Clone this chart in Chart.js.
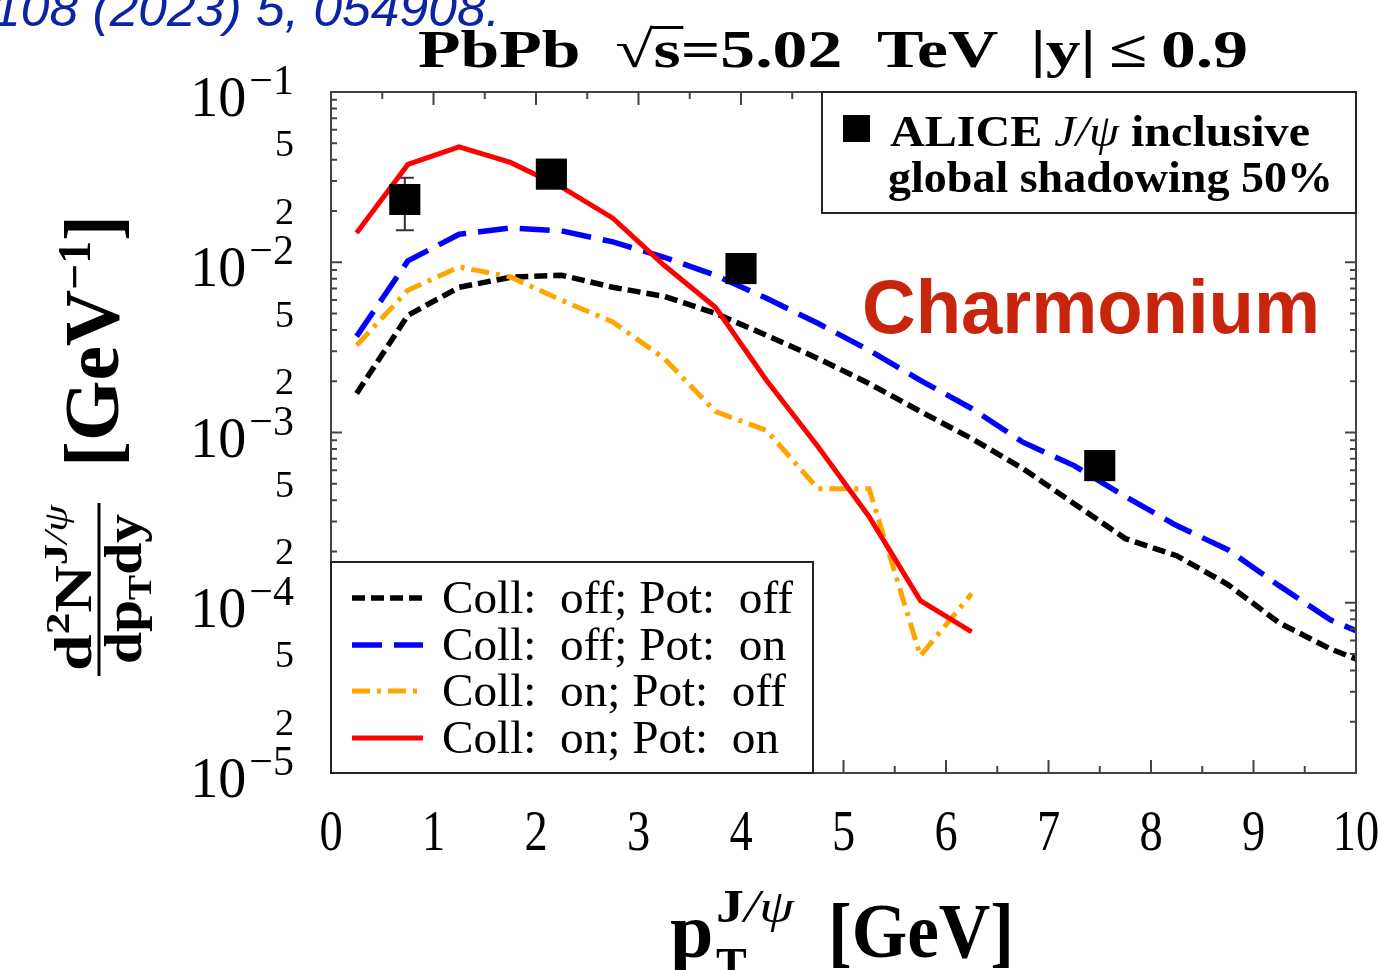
<!DOCTYPE html>
<html>
<head>
<meta charset="utf-8">
<title>J/psi pT spectrum, PbPb 5.02 TeV</title>
<script src="https://cdn.jsdelivr.net/npm/chart.js@4.4.0/dist/chart.umd.min.js"></script>
<style>
  html, body { margin: 0; padding: 0; background: #fff; overflow: hidden; }
  canvas { display: block; }
</style>
</head>
<body>
<canvas id="spectrum" width="1379" height="970"></canvas>
<script>
// ─── Data ─────────────────────────────────────────────────────────────────────

// transport model pT grid [GeV]
const ptGrid = [0.25, 0.75, 1.25, 1.75, 2.25, 2.75, 3.25, 3.75, 4.25, 4.75, 5.25,
                5.75, 6.25, 6.75, 7.25, 7.75, 8.25, 8.75, 9.25, 9.75, 10.0];

// d2N/dpTdy [GeV^-1]
const collOffPotOff = [0.001696, 0.004879, 0.007125, 0.008164, 0.008387, 0.007125, 0.006310,
                       0.005012, 0.003721, 0.002724, 0.001941, 0.001329, 0.000922, 0.000614,
                       0.000382, 0.000238, 0.000189, 0.000128, 0.0000763, 0.0000536, 0.0000468];
const collOffPotOn  = [0.003671, 0.01018, 0.01461, 0.01591, 0.01528, 0.01317, 0.01070,
                       0.008387, 0.006142, 0.004378, 0.003038, 0.002022, 0.001384, 0.000877,
                       0.000639, 0.000420, 0.000284, 0.000205, 0.000126, 0.0000794, 0.0000685];
const collOnPotOff  = [0.003249, 0.006845, 0.009384, 0.008195, 0.005977, 0.004455, 0.002724,
                       0.001329, 0.001027, 0.000468, 0.000468, 0.0000488, 0.000113];
const collOnPotOn   = [0.01487, 0.03756, 0.04767, 0.03860, 0.02762, 0.01815, 0.009603,
                       0.005436, 0.002022, 0.000827, 0.000320, 0.000103, 0.0000675];

// ALICE inclusive J/psi
const alicePt    = [0.72, 2.15, 4.0, 7.5];
const aliceYield = [0.02338, 0.03293, 0.009182, 0.000639];
const aliceErrLo = [0.01542, null, null, null];
const aliceErrHi = [0.03133, null, null, null];

const seriesLabels = ['Coll:  off; Pot:  off', 'Coll:  off; Pot:  on',
                      'Coll:  on; Pot:  off', 'Coll:  on; Pot:  on'];
const xTickValues = [0, 1, 2, 3, 4, 5, 6, 7, 8, 9, 10];
const yDecadeExps = [-1, -2, -3, -4, -5];
const yMinorLabels = [5, 2];

// ─── Fonts / helpers ──────────────────────────────────────────────────────────

const SERIF = '"Liberation Serif", "Times New Roman", serif';
const SANS = '"Liberation Sans", Arial, sans-serif';
const B = size => `bold ${size}px ${SERIF}`;
const R = size => `${size}px ${SERIF}`;
const I = size => `italic ${size}px ${SERIF}`;

// draws a row of text pieces (different fonts / raised or lowered), optionally
// stretched horizontally to a given width
function drawRuns(ctx, runs, x, y, opt = {}) {
  let natural = 0;
  runs.forEach(r => { ctx.font = r.font; natural += ctx.measureText(r.text).width + (r.gap || 0); });
  const sx = opt.width ? opt.width / natural : (opt.sx || 1);
  let x0 = x;
  if (opt.align === 'right') x0 = x - natural * sx;
  else if (opt.align === 'center') x0 = x - natural * sx / 2;
  ctx.save();
  ctx.translate(x0, y);
  ctx.scale(sx, 1);
  ctx.textAlign = 'left';
  ctx.textBaseline = 'alphabetic';
  let cx = 0;
  runs.forEach(r => {
    ctx.font = r.font;
    ctx.fillStyle = r.color || opt.color || '#000';
    ctx.fillText(r.text, cx, r.dy || 0);
    const w = ctx.measureText(r.text).width;
    if (r.overline != null) ctx.fillRect(cx - 2, r.overline, w + 4, 3);
    cx += w + (r.gap || 0);
  });
  ctx.restore();
  return natural * sx;
}

// ─── Datasets ─────────────────────────────────────────────────────────────────

const toPoints = (xs, ys) => ys.map((v, i) => ({ x: xs[i], y: v }));

const lineStyles = [
  { color: '#000000', width: 5.5, dash: [13, 6] },
  { color: '#0000ff', width: 5.5, dash: [30, 12] },
  { color: '#ffa500', width: 5, dash: [18, 7, 4, 7] },
  { color: '#ff0000', width: 5, dash: [] },
];
const seriesValues = [collOffPotOff, collOffPotOn, collOnPotOff, collOnPotOn];

const aliceSet = {
  label: 'ALICE J/psi inclusive',
  data: toPoints(alicePt, aliceYield),
  showLine: false,
  pointStyle: 'rect',
  pointRadius: 22,
  pointBorderWidth: 0,
  pointBackgroundColor: '#000',
};
const modelSets = seriesValues.map((vals, i) => ({
  label: seriesLabels[i],
  data: toPoints(ptGrid, vals),
  borderColor: lineStyles[i].color,
  borderWidth: lineStyles[i].width,
  borderDash: lineStyles[i].dash,
  pointRadius: 0,
  tension: 0,
  fill: false,
}));
// first dataset is painted last: squares on top, then red, orange, blue, black
const datasets = [aliceSet, ...modelSets.slice().reverse()];

// ─── Plugins ──────────────────────────────────────────────────────────────────

const errorBars = {
  id: 'errorBars',
  beforeDatasetsDraw(chart) {
    const { ctx, scales: { x, y } } = chart;
    ctx.save();
    ctx.strokeStyle = '#333';
    ctx.lineWidth = 2;
    alicePt.forEach((pt, i) => {
      if (aliceErrLo[i] == null) return;
      const px = x.getPixelForValue(pt);
      const lo = y.getPixelForValue(aliceErrLo[i]);
      const hi = y.getPixelForValue(aliceErrHi[i]);
      ctx.beginPath();
      ctx.moveTo(px, lo); ctx.lineTo(px, hi);
      ctx.moveTo(px - 9, lo); ctx.lineTo(px + 9, lo);
      ctx.moveTo(px - 9, hi); ctx.lineTo(px + 9, hi);
      ctx.stroke();
    });
    ctx.restore();
  },
};

const decorations = {
  id: 'decorations',
  afterDraw(chart) {
    const { ctx, chartArea: a, scales: { x, y } } = chart;
    ctx.save();

    // frame + inward ticks on all four sides
    ctx.strokeStyle = '#444';
    ctx.lineWidth = 2;
    ctx.strokeRect(a.left, a.top, a.right - a.left, a.bottom - a.top);
    ctx.beginPath();
    for (let v = 0.5; v < 10; v += 0.5) {
      const px = x.getPixelForValue(v);
      const len = Number.isInteger(v) ? 13 : 7;
      ctx.moveTo(px, a.bottom); ctx.lineTo(px, a.bottom - len);
      ctx.moveTo(px, a.top); ctx.lineTo(px, a.top + len);
    }
    for (let e = -5; e < -1; e++) {
      for (let m = 1; m < 10; m++) {
        const py = y.getPixelForValue(m * Math.pow(10, e));
        const len = m === 1 ? 11 : 6;
        ctx.moveTo(a.left, py); ctx.lineTo(a.left + len, py);
        ctx.moveTo(a.right, py); ctx.lineTo(a.right - len, py);
      }
    }
    ctx.stroke();

    // x tick labels
    xTickValues.forEach(v => {
      drawRuns(ctx, [{ text: String(v), font: R(58) }], x.getPixelForValue(v), 850, { align: 'center', sx: 0.8 });
    });

    // y tick labels: decades with exponents, 5 and 2 inside each decade
    yDecadeExps.forEach(e => {
      const py = y.getPixelForValue(Math.pow(10, e));
      drawRuns(ctx, [
        { text: '10', font: R(56), gap: 3 },
        { text: '\u2212' + (-e), font: R(42), dy: -22 },
      ], 294, py + 24, { align: 'right' });
      if (e === -5) return;
      yMinorLabels.forEach(m => {
        const pm = y.getPixelForValue(m * Math.pow(10, e - 1));
        drawRuns(ctx, [{ text: String(m), font: R(38) }], 294, pm + 13, { align: 'right' });
      });
    });

    // title
    drawRuns(ctx, [
      { text: 'PbPb', font: B(52), gap: 26 },
      { text: '\u221a', font: R(52) },
      { text: 's', font: B(52), overline: -41 },
      { text: '=5.02', font: B(52), gap: 26 },
      { text: 'TeV', font: B(52), gap: 24 },
      { text: '|y|', font: B(52), gap: 10 },
      { text: '\u2264', font: B(52), gap: 10 },
      { text: '0.9', font: B(52) },
    ], 418, 67, { width: 830 });

    // x axis title
    drawRuns(ctx, [{ text: 'p', font: B(78) }], 670, 957);
    drawRuns(ctx, [{ text: 'T', font: B(46) }], 716, 980);
    drawRuns(ctx, [{ text: 'J', font: B(46) }, { text: '/\u03c8', font: I(46) }], 716, 922, { width: 78 });
    drawRuns(ctx, [{ text: '[GeV]', font: B(78) }], 828, 957, { width: 186 });

    // y axis title, rotated: fraction then unit
    ctx.save();
    ctx.translate(100, 0);
    ctx.rotate(-Math.PI / 2);
    drawRuns(ctx, [
      { text: 'd', font: B(52) },
      { text: '2', font: B(34), dy: -22 },
      { text: 'N', font: B(52) },
      { text: 'J', font: B(34), dy: -24 },
      { text: '/\u03c8', font: I(34), dy: -24 },
    ], -671, -9, { width: 166 });
    drawRuns(ctx, [
      { text: 'dp', font: B(52) },
      { text: 'T', font: B(34), dy: 10 },
      { text: 'dy', font: B(52) },
    ], -664, 41, { width: 150 });
    ctx.fillStyle = '#000';
    ctx.fillRect(-676, -2.5, 173, 3);
    drawRuns(ctx, [
      { text: '[GeV', font: B(78) },
      { text: '\u22121', font: B(46), dy: -28 },
      { text: ']', font: B(78) },
    ], -467, 18, { width: 252 });
    ctx.restore();

    // data legend (top right)
    ctx.strokeStyle = '#222';
    ctx.lineWidth = 2;
    ctx.fillStyle = '#fff';
    ctx.fillRect(822, a.top, a.right - 822, 121);
    ctx.strokeRect(822, a.top, a.right - 822, 121);
    ctx.fillStyle = '#000';
    ctx.fillRect(843, 115, 27, 27);
    drawRuns(ctx, [
      { text: 'ALICE ', font: B(44) },
      { text: 'J/\u03c8', font: I(44) },
      { text: ' inclusive', font: B(44) },
    ], 890, 146, { width: 420 });
    drawRuns(ctx, [{ text: 'global shadowing 50%', font: B(44) }], 888, 192, { width: 445 });

    // model legend (bottom left)
    ctx.fillStyle = '#fff';
    ctx.fillRect(a.left, 562, 813 - a.left, a.bottom - 562);
    ctx.strokeRect(a.left, 562, 813 - a.left, a.bottom - 562);
    ctx.font = R(46);
    const sx = 351 / ctx.measureText(seriesLabels[0]).width;
    const rowY = [598, 645, 691, 738];
    seriesLabels.forEach((label, i) => {
      const st = lineStyles[i];
      ctx.beginPath();
      ctx.strokeStyle = st.color;
      ctx.lineWidth = st.width;
      ctx.setLineDash(st.dash);
      ctx.moveTo(352, rowY[i]);
      ctx.lineTo(423, rowY[i]);
      ctx.stroke();
      ctx.setLineDash([]);
      drawRuns(ctx, [{ text: label, font: R(46) }], 442, rowY[i] + 15, { sx });
    });

    // annotations
    drawRuns(ctx, [{ text: 'Charmonium', font: `bold 76px ${SANS}`, color: '#c9250d' }], 862, 333, { width: 458 });
    drawRuns(ctx, [{ text: '108 (2023) 5, 054908.', font: `italic 50px ${SANS}`, color: '#0b24a6' }], -8, 26, { width: 508 });

    ctx.restore();
  },
};

// ─── Chart ────────────────────────────────────────────────────────────────────

new Chart(document.getElementById('spectrum'), {
  type: 'line',
  data: { datasets },
  options: {
    responsive: false,
    animation: false,
    events: [],
    layout: { padding: { left: 331, right: 23, top: 92, bottom: 197 } },
    plugins: { legend: { display: false }, tooltip: { enabled: false } },
    scales: {
      x: { type: 'linear', min: 0, max: 10, display: false },
      y: { type: 'logarithmic', min: 1e-5, max: 1e-1, display: false },
    },
  },
  plugins: [errorBars, decorations],
});
</script>
</body>
</html>
